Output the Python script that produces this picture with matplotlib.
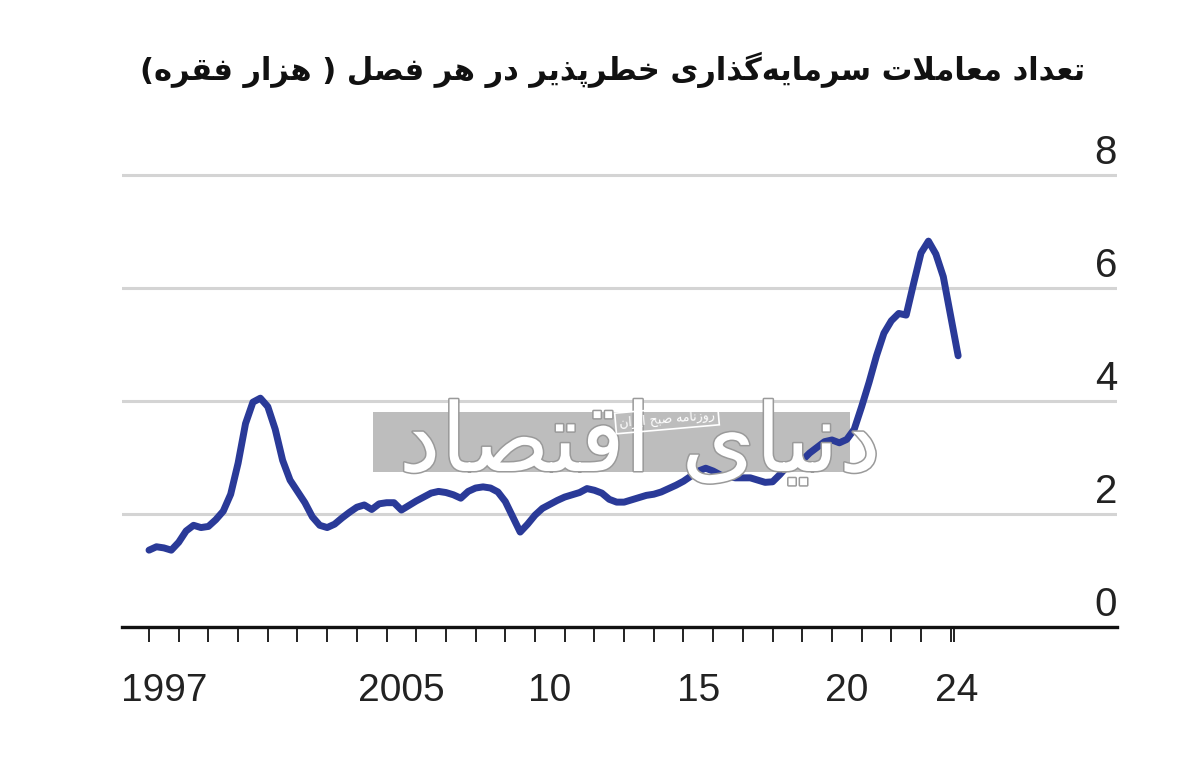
import numpy as np
import matplotlib
matplotlib.use("Agg")
from matplotlib import pyplot as plt
from matplotlib import patheffects, transforms
from matplotlib.patches import Rectangle

# quarterly venture capital deals, thousands (1997 Q1 .. 2024 Q2)
deals = [
    1.36, 1.42, 1.40, 1.36,   # 1997
    1.50, 1.70, 1.80, 1.76,   # 1998
    1.78, 1.90, 2.05, 2.35,   # 1999
    2.90, 3.60, 3.98, 4.05,   # 2000
    3.90, 3.50, 2.95, 2.60,   # 2001
    2.40, 2.20, 1.95, 1.80,   # 2002
    1.76, 1.82, 1.93, 2.03,   # 2003
    2.12, 2.16, 2.08, 2.18,   # 2004
    2.20, 2.20, 2.07, 2.15,   # 2005
    2.23, 2.30, 2.37, 2.40,   # 2006
    2.38, 2.34, 2.28, 2.40,   # 2007
    2.46, 2.48, 2.46, 2.39,   # 2008
    2.22, 1.95, 1.68, 1.82,   # 2009
    1.98, 2.10, 2.17, 2.24,   # 2010
    2.30, 2.34, 2.38, 2.45,   # 2011
    2.42, 2.37, 2.26, 2.21,   # 2012
    2.21, 2.25, 2.29, 2.33,   # 2013
    2.35, 2.39, 2.45, 2.51,   # 2014
    2.58, 2.67, 2.76, 2.81,   # 2015
    2.76, 2.69, 2.66, 2.64,   # 2016
    2.64, 2.64, 2.60, 2.56,   # 2017
    2.57, 2.70, 2.85, 2.90,   # 2018
    2.95, 3.08, 3.18, 3.28,   # 2019
    3.31, 3.26, 3.32, 3.50,   # 2020
    3.90, 4.33, 4.80, 5.20,   # 2021
    5.42, 5.55, 5.52, 6.08,   # 2022
    6.62, 6.83, 6.60, 6.20,   # 2023
    5.50, 4.80,               # 2024
]
first_year = 1997
year_ticks = list(range(1997, 2025)) + [2024.12]
label_pos = [1997.5, 2005.5, 2010.5, 2015.5, 2020.5, 2024.2]
label_txt = ["1997", "2005", "10", "15", "20", "24"]
y_ticks = [0, 2, 4, 6, 8]

title = "تعداد معاملات سرمایه\u200cگذاری خطرپذیر در هر فصل ( هزار فقره)"
brand = "دنیای اقتصاد"
brand_sub = "روزنامه صبح ایران"

# presentation forms: isolated, final, initial, medial
FORMS = {
    "ا": ("\uFE8D", "\uFE8E", None, None),
    "ب": ("\uFE8F", "\uFE90", "\uFE91", "\uFE92"),
    "پ": ("\uFB56", "\uFB57", "\uFB58", "\uFB59"),
    "ت": ("\uFE95", "\uFE96", "\uFE97", "\uFE98"),
    "ح": ("\uFEA1", "\uFEA2", "\uFEA3", "\uFEA4"),
    "خ": ("\uFEA5", "\uFEA6", "\uFEA7", "\uFEA8"),
    "د": ("\uFEA9", "\uFEAA", None, None),
    "ذ": ("\uFEAB", "\uFEAC", None, None),
    "ر": ("\uFEAD", "\uFEAE", None, None),
    "ز": ("\uFEAF", "\uFEB0", None, None),
    "س": ("\uFEB1", "\uFEB2", "\uFEB3", "\uFEB4"),
    "ص": ("\uFEB9", "\uFEBA", "\uFEBB", "\uFEBC"),
    "ط": ("\uFEC1", "\uFEC2", "\uFEC3", "\uFEC4"),
    "ع": ("\uFEC9", "\uFECA", "\uFECB", "\uFECC"),
    "ف": ("\uFED1", "\uFED2", "\uFED3", "\uFED4"),
    "ق": ("\uFED5", "\uFED6", "\uFED7", "\uFED8"),
    "گ": ("\uFB92", "\uFB93", "\uFB94", "\uFB95"),
    "ل": ("\uFEDD", "\uFEDE", "\uFEDF", "\uFEE0"),
    "م": ("\uFEE1", "\uFEE2", "\uFEE3", "\uFEE4"),
    "ن": ("\uFEE5", "\uFEE6", "\uFEE7", "\uFEE8"),
    "ه": ("\uFEE9", "\uFEEA", "\uFEEB", "\uFEEC"),
    "و": ("\uFEED", "\uFEEE", None, None),
    # farsi yeh drawn with the identical-looking forms DejaVu Sans covers
    "ی": ("\uFEEF", "\uFEF0", "\uFEF3", "\uFEF4"),
}


def fa(text):
    """Shape Persian text and put it in visual (left to right) order."""
    out = []
    i = 0
    n = len(text)
    while i < n:
        c = text[i]
        if c not in FORMS:
            if c != "\u200c":
                out.append(c)
            i += 1
            continue
        prev = text[i - 1] if i > 0 else ""
        prev_j = prev in FORMS and FORMS[prev][2] is not None
        if c == "ل" and i + 1 < n and text[i + 1] == "ا":
            out.append("\uFEFC" if prev_j else "\uFEFB")
            i += 2
            continue
        iso, fin, ini, med = FORMS[c]
        next_j = ini is not None and i + 1 < n and text[i + 1] in FORMS
        if prev_j and next_j:
            out.append(med)
        elif prev_j:
            out.append(fin)
        elif next_j:
            out.append(ini)
        else:
            out.append(iso)
        i += 1
    vis = "".join(out)[::-1]
    return vis.translate(str.maketrans("()", ")("))


plt.rcParams["font.family"] = ["Liberation Sans", "DejaVu Sans"]

fig = plt.figure(figsize=(12, 7.65), dpi=100)
ax = fig.add_axes([122 / 1200, 138 / 765, 995 / 1200, 8.6 * 56.5 / 765])

x = first_year + np.arange(len(deals)) / 4
ax.plot(x, deals, color="#2a3a98", lw=5, solid_capstyle="round",
        solid_joinstyle="round", zorder=4)

ax.set_xlim(1996.09, 2029.6)
ax.set_ylim(0, 8.6)

for s in ["top", "left", "right"]:
    ax.spines[s].set_visible(False)
ax.spines["bottom"].set_linewidth(2.4)
ax.spines["bottom"].set_color("#111111")

ax.set_yticks(y_ticks)
ax.set_yticklabels([])
ax.tick_params(axis="y", length=0)
ax.grid(axis="y", color="#d4d4d4", lw=2.2, zorder=0)
ax.set_axisbelow(True)

ytrans = transforms.offset_copy(ax.get_yaxis_transform(), fig=fig, y=11, units="dots")
for v in y_ticks:
    ax.text(1.0, v, str(v), transform=ytrans, ha="right", va="baseline",
            fontsize=29, color="#222222")

ax.set_xticks(year_ticks)
ax.set_xticklabels([])
ax.tick_params(axis="x", which="major", length=11, width=1.4, color="#222222")
ax.set_xticks(label_pos, label_txt, minor=True)
ax.tick_params(axis="x", which="minor", length=0, pad=33, labelsize=28,
               labelcolor="#222222")

fig.text(1085 / 1200, 1 - 70 / 765, fa(title), ha="right", va="center",
         fontsize=22, fontweight="bold", family="DejaVu Sans", color="#111111")

# watermark
fig.add_artist(Rectangle((373 / 1200, 1 - 472 / 765), 477 / 1200, 60 / 765,
                         transform=fig.transFigure, facecolor="#bdbdbd",
                         edgecolor="none", zorder=1))
ax.set_zorder(2)
ax.patch.set_alpha(0)
fig.text(640 / 1200, 1 - 445 / 765, fa(brand), ha="center", va="center",
         fontsize=68, family="DejaVu Sans", color="white", zorder=3,
         path_effects=[patheffects.withStroke(linewidth=2.2, foreground="#9a9a9a")])
fig.text(667 / 1200, 1 - 419 / 765, fa(brand_sub), ha="center", va="center",
         fontsize=9, family="DejaVu Sans", color="white", rotation=5, zorder=3,
         bbox=dict(boxstyle="square,pad=0.3", facecolor="none",
                   edgecolor="white", lw=1.2))

fig.savefig("out.png", dpi=100, facecolor="white")
